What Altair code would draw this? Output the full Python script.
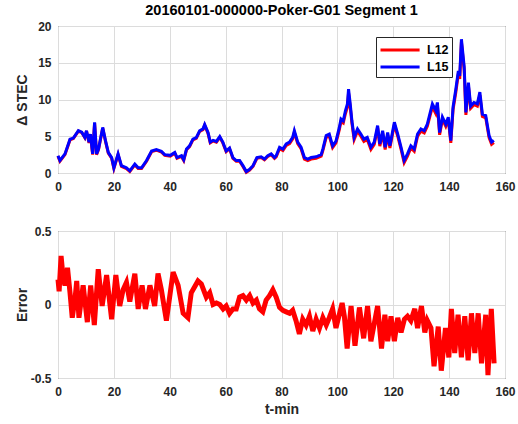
import altair as alt
import pandas as pd

# ---- top panel data (t in minutes, dSTEC) ----
t_top = [0, 0.7, 2.5, 4.3, 5.5, 7.3, 8.5, 9.6, 10.2, 11.1,
         11.6, 12.4, 13.1, 13.8, 14.5, 16, 17, 18, 19.2, 20,
         21.5, 22.7, 24.5, 25.7, 27.5, 28.7, 29.9, 31.7, 33.5, 35.2,
         37, 38.2, 40.2, 41.8, 42.6, 44.2, 45, 46, 47.1, 48.3,
         49.5, 50.7, 51.9, 52.5, 53.7, 54.5, 55.5, 56.7, 57.9, 59,
         60.2, 61.4, 62.6, 63.8, 65, 66.2, 67.4, 68.6, 69.8, 71.2,
         72.7, 73.9, 75.1, 76.3, 77.5, 78.1, 79.3, 80.5, 81.7, 82.9,
         84, 84.6, 85.8, 87, 88.2, 89.4, 90.6, 92.4, 94.2, 94.8,
         96, 97.1, 98.3, 99.5, 100.7, 101.3, 102.1, 102.9, 103.6, 104,
         104.6, 105.2, 106, 107.2, 108.4, 109.5, 110.7, 112, 113.2, 114.4,
         115.2, 116.2, 117.1, 118, 118.8, 120.4, 121.6, 122.8, 123.9, 125.1,
         126.3, 127.5, 128.7, 129.9, 131.1, 132.2, 134, 135.2, 135.8, 136.6,
         137.6, 138.8, 139.7, 140.6, 141.4, 142.4, 143.3, 143.8, 144.4, 145.4,
         146, 146.9, 147.7, 148.9, 150.1, 151, 151.9, 153.1, 154.3, 155.2,
         156]

l15 = [2.35, 1.7, 2.6, 4.6, 4.75, 5.75, 5.55, 4.85, 5.75, 4.2,
       5.3, 2.6, 6.9, 2.6, 3.25, 6.2, 4.4, 2.8, 2.1, 0.7,
       2.6, 1.0, 0.7, 0.3, 1.2, 0.7, 0.7, 1.7, 3.0, 3.2,
       2.95, 2.5, 2.4, 2.8, 2.1, 2.35, 1.8, 3.25, 3.7, 4.6,
       4.8, 5.75, 6.0, 6.6, 5.5, 4.2, 4.45, 4.3, 4.95, 4.2,
       3.0, 3.4, 2.1, 1.7, 1.7, 1.0, 0.2, 0.5, 1.0, 2.1,
       2.2, 1.9, 2.35, 2.6, 2.1, 2.35, 3.5, 3.25, 3.95, 4.2,
       4.85, 5.75, 4.2, 3.5, 2.1, 1.9, 2.1, 2.2, 2.5, 3.25,
       5.1, 5.3, 3.7, 4.35, 6.2, 7.35, 7.1, 8.5, 9.4, 11.4,
       9.4, 7.1, 4.85, 6.0, 5.3, 4.6, 4.85, 3.5, 4.2, 6.45,
       3.95, 5.75, 3.5, 5.5, 3.7, 6.9, 5.3, 3.5, 1.7, 2.6,
       3.7, 3.25, 5.3, 6.0, 5.75, 6.65, 9.4, 8.5, 9.6, 5.5,
       7.6, 6.65, 7.6, 4.4, 8.95, 11.4, 13.9, 13.2, 18.2, 14.4,
       8.25, 12.3, 9.1, 9.6, 9.4, 11.0, 8.0, 7.8, 5.1, 4.2,
       4.45]

l12 = [2.3, 1.6, 2.5, 4.5, 4.7, 5.7, 5.5, 4.8, 5.7, 4.1,
       5.2, 2.5, 6.8, 2.5, 3.2, 6.1, 4.3, 2.7, 2.0, 0.6,
       2.5, 0.9, 0.6, 0.2, 1.1, 0.6, 0.6, 1.6, 2.9, 3.1,
       2.85, 2.4, 2.3, 2.7, 2.0, 2.25, 1.7, 3.15, 3.6, 4.5,
       4.7, 5.65, 5.9, 6.5, 5.4, 4.1, 4.35, 4.2, 4.85, 4.1,
       2.9, 3.3, 2.0, 1.6, 1.6, 0.9, 0.1, 0.4, 0.9, 2.0,
       2.1, 1.8, 2.25, 2.5, 2.0, 2.2, 3.3, 3.05, 3.75, 4.0,
       4.65, 5.55, 4.0, 3.3, 1.9, 1.7, 1.9, 2.0, 2.3, 3.05,
       4.85, 5.05, 3.45, 4.1, 5.9, 7.0, 6.8, 8.1, 9.0, 10.9,
       9.0, 6.8, 4.55, 5.7, 5.0, 4.3, 4.55, 3.2, 3.9, 6.15,
       3.65, 5.45, 3.2, 5.2, 3.4, 6.6, 5.0, 3.2, 1.4, 2.3,
       3.4, 2.95, 5.0, 5.7, 5.45, 6.35, 9.0, 8.1, 9.2, 5.2,
       7.3, 6.35, 7.3, 4.1, 8.6, 11.0, 13.5, 12.8, 17.8, 14.0,
       7.9, 11.9, 8.8, 9.3, 9.1, 10.6, 7.7, 7.5, 4.8, 3.9,
       4.15]

# ---- bottom panel data (error) ----
t_err = [0, 0.4, 1.1, 1.9, 2.5, 3.4, 4.3, 5.1, 6.1, 6.7,
         7.5, 9.0, 10.5, 11.7, 13.0, 14.4, 15.8, 17.4, 19.2, 20.7,
         22.1, 23.3, 24.5, 25.7, 27.5, 28.7, 30.1, 31.3, 32.9, 34.6,
         35.8, 37.0, 38.8, 41.2, 43.0, 44.8, 46.5, 47.7, 50.1, 51.3,
         52.5, 53.1, 54.3, 55.5, 56.7, 57.9, 59.1, 60.2, 61.4, 62.6,
         63.8, 65.0, 66.2, 67.4, 68.6, 69.8, 71.0, 72.1, 73.3, 74.5,
         75.7, 76.9, 78.1, 79.3, 80.5, 81.7, 82.9, 84.0, 85.2, 86.4,
         87.6, 88.8, 90.0, 91.2, 92.4, 93.6, 94.8, 96.0, 97.1, 98.3,
         99.5, 101.7, 102.5, 103.5, 104.9, 106.3, 107.9, 109.4, 110.8, 112.0,
         114.4, 115.8, 117.0, 118.0, 119.2, 120.4, 121.6, 122.8, 124.0, 125.1,
         126.3, 127.7, 128.7, 130.1, 131.3, 132.2, 133.5, 134.6, 136.1, 137.2,
         138.7, 139.9, 140.8, 142.0, 143.2, 144.4, 145.6, 146.8, 148.0, 149.2,
         150.4, 151.6, 153.1, 153.9, 155.1, 156.1]

err = [0.17, 0.09, 0.33, 0.17, 0.13, 0.25, 0.08, -0.09, 0.04, 0.16,
       -0.09, 0.13, -0.12, 0.13, -0.14, 0.24, -0.01, 0.2, -0.1, 0.2,
       -0.01, 0.1, 0.15, 0.02, 0.21, -0.03, 0.13, -0.03, 0.13, -0.01,
       0.21, 0.1, -0.11, 0.22, 0.13, -0.06, -0.09, 0.08, 0.16, 0.14,
       0.08, 0.05, 0.08, 0.0, 0.01, 0.0, -0.03, -0.01, -0.06, -0.03,
       -0.03, 0.05, 0.06, 0.03, 0.06, 0.01, 0.03, -0.03, -0.05, 0.03,
       0.06, 0.1, 0.05, -0.02, -0.04, -0.05, -0.06, -0.04, -0.11, -0.2,
       -0.1, -0.14, -0.08, -0.18, -0.1, -0.16, -0.09, -0.14, -0.09, -0.03,
       -0.16, 0.01, -0.08, -0.3, -0.01, -0.28, -0.02, -0.23, -0.01, -0.25,
       -0.01, -0.3, -0.07, -0.25, -0.08, -0.25, -0.09, -0.19, -0.1, -0.08,
       -0.11, -0.03, -0.16, -0.01, -0.19, -0.11, -0.16, -0.42, -0.15, -0.45,
       -0.16, -0.36, -0.03, -0.33, -0.07, -0.36, -0.08, -0.38, -0.06, -0.33,
       -0.06, -0.4, -0.07, -0.48, -0.03, -0.4]

x_ticks = [0, 20, 40, 60, 80, 100, 120, 140, 160]
y_ticks_top = [0, 5, 10, 15, 20]
y_ticks_err = [-0.5, 0, 0.5]
series_names = ["L12", "L15"]
series_colors = ["#ff0000", "#0000ff"]

n = len(t_top)
df_top = pd.DataFrame({
    "t": t_top + t_top,
    "v": l12 + l15,
    "series": ["L12"] * n + ["L15"] * n,
})
df_err = pd.DataFrame({"t": t_err, "e": err})

FONT = "Liberation Sans"
W, H = 447, 147

x_scale = alt.Scale(domain=[0, 160], nice=False)

top = alt.Chart(df_top).mark_line(strokeWidth=3).encode(
    x=alt.X("t:Q", scale=x_scale,
            axis=alt.Axis(values=x_ticks, title=None)),
    y=alt.Y("v:Q", scale=alt.Scale(domain=[0, 20], nice=False),
            axis=alt.Axis(values=y_ticks_top, title="Δ STEC",
                          titleX=-36, titleY=H / 2, titleBaseline="middle")),
    color=alt.Color("series:N",
                    scale=alt.Scale(domain=series_names, range=series_colors),
                    legend=alt.Legend(orient="none", legendX=318, legendY=11,
                                      title=None, symbolType="M-1,0H3.6",
                                      symbolSize=289, symbolStrokeWidth=3,
                                      labelOffset=28,
                                      labelFont=FONT, labelFontSize=12.5,
                                      labelFontWeight="bold", labelColor="#000000",
                                      padding=3, rowPadding=0,
                                      strokeColor="#262626", fillColor="white")),
).properties(
    width=W, height=H,
    title=alt.TitleParams("20160101-000000-Poker-G01 Segment 1",
                          font=FONT, fontSize=14.5, fontWeight="bold",
                          color="#000000", offset=2, anchor="middle"),
)

bottom = alt.Chart(df_err).mark_line(strokeWidth=5, color="#ff0000").encode(
    x=alt.X("t:Q", scale=x_scale,
            axis=alt.Axis(values=x_ticks, title="t-min", titlePadding=5)),
    y=alt.Y("e:Q", scale=alt.Scale(domain=[-0.5, 0.5], nice=False),
            axis=alt.Axis(values=y_ticks_err, title="Error",
                          labelExpr="'' + datum.value",
                          titleX=-36, titleY=H / 2, titleBaseline="middle")),
).properties(width=W, height=H)

chart = alt.vconcat(top, bottom, spacing=58, bounds="flush").properties(
    padding={"left": 14, "top": 2, "right": 2, "bottom": 0},
).configure_view(
    stroke="#262626", strokeWidth=1
).configure_axis(
    labelFont=FONT, labelFontSize=12, labelFontWeight="bold",
    labelColor="#262626",
    titleFont=FONT, titleFontSize=14, titleFontWeight="bold",
    titleColor="#262626",
    grid=True, gridColor="#dcdcdc", gridWidth=1,
    domain=False, ticks=False,
).configure_axisX(
    labelFlush=False, labelPadding=8,
).configure_axisY(
    labelPadding=7,
)

chart.save("out.html", embed_options={"renderer": "svg", "actions": False})
